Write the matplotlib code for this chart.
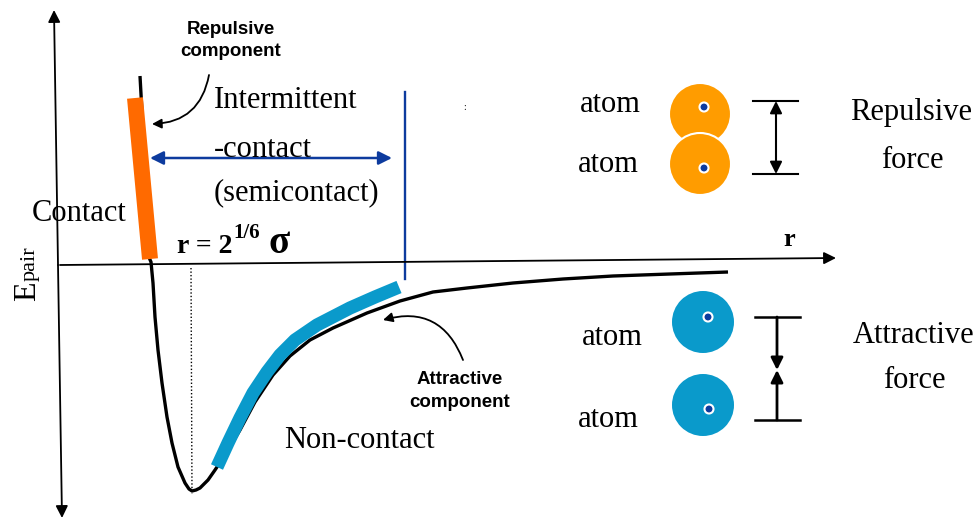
import matplotlib
matplotlib.use("Agg")
import matplotlib.pyplot as plt
from matplotlib.patches import Circle

plt.rcParams['font.family'] = ['Liberation Serif', 'DejaVu Serif']

# pair potential curve (pixel coords, y down)
curve_x = [140, 143, 146, 148, 151, 153, 155, 158, 162, 167, 172, 178, 185, 189, 192,
           196, 200, 208, 215, 225, 240, 255, 273, 290, 310, 333, 367, 400, 433,
           467, 513, 563, 613, 670, 728]
curve_y = [76, 130, 200, 255, 262, 283, 317, 350, 383, 417, 443, 467, 483, 489, 491,
           490, 488, 480, 470, 455, 430, 402, 375, 356, 340, 328, 313, 301, 292,
           288, 283, 279, 276, 274, 272]

# highlighted parts of the curve
repulsive_x = [135, 150]
repulsive_y = [98, 259]
attractive_x = [217, 228, 240, 253, 267, 280, 295, 317, 350, 375, 399]
attractive_y = [467, 443, 418, 393, 372, 355, 340, 325, 308, 297, 287]

# atoms: (x, y) centres, nucleus positions
rep_atoms = [(700, 114), (700, 164)]
rep_nuclei = [(704, 107), (704, 168)]
att_atoms = [(703, 322), (703, 405)]
att_nuclei = [(708, 317), (709, 409)]

ORANGE = '#ff6a00'
ORANGE_ATOM = '#ff9c00'
BLUE = '#0a9acb'
DARKBLUE = '#0d3b9e'

fig = plt.figure(figsize=(9.8, 5.22), dpi=100)
ax = fig.add_axes([0, 0, 1, 1])
ax.set_xlim(0, 980)
ax.set_ylim(522, 0)
ax.axis('off')

def arrow(p0, p1, style='-|>', color='black', lw=1.2, ms=15, rad=0.0):
    ax.annotate('', xy=p1, xytext=p0,
                arrowprops=dict(arrowstyle=style, color=color, lw=lw,
                                mutation_scale=ms, shrinkA=0, shrinkB=0,
                                connectionstyle=f'arc3,rad={rad}'))

# axes
arrow((60, 265), (836, 258), lw=1.3, ms=18)
arrow((58, 265), (54, 10), lw=1.3, ms=18)
arrow((58, 265), (62, 518), lw=1.3, ms=18)

# curve + coloured parts
ax.plot(curve_x, curve_y, color='black', lw=2.4, solid_capstyle='butt',
        solid_joinstyle='round', zorder=3)
ax.plot(repulsive_x, repulsive_y, color=ORANGE, lw=11.5, solid_capstyle='butt', zorder=4)
ax.plot(attractive_x, attractive_y, color=BLUE, lw=9.5, solid_capstyle='butt',
        solid_joinstyle='round', zorder=4)

# minimum marker and semicontact boundary
ax.plot([191, 192], [268, 494], color='black', lw=1.0, ls=(0, (1, 1.5)))
ax.plot([405, 405], [92, 279], color=DARKBLUE, lw=1.7)
arrow((392, 158), (150, 158), style='<|-|>', color=DARKBLUE, lw=1.8, ms=20)

# curved pointer arrows
arrow((209, 75), (152, 124), lw=1.3, ms=14, rad=-0.4)
arrow((463, 360), (383, 320), lw=1.3, ms=14, rad=0.45)

# text labels
serif = 22
ax.text(214, 108, 'Intermittent', fontsize=serif, va='baseline')
ax.text(214, 157, '-contact', fontsize=serif, va='baseline')
ax.text(214, 200, '(semicontact)', fontsize=serif, va='baseline')
ax.text(32, 221, 'Contact', fontsize=serif, va='baseline')
ax.text(284, 448, 'Non-contact', fontsize=serif, va='baseline')
ax.text(177, 253, 'r = 2', fontsize=20, fontweight='bold', va='baseline')
ax.text(233, 238, '1/6', fontsize=15, fontweight='bold', va='baseline')
ax.text(268, 253, 'σ', fontsize=28, fontweight='bold', va='baseline')
ax.text(783, 246, 'r', fontsize=19, fontweight='bold', va='baseline')
ax.text(35, 301, 'E', fontsize=23, rotation=90, rotation_mode='anchor',
        ha='left', va='baseline')
ax.text(35, 281, 'pair', fontsize=16, rotation=90, rotation_mode='anchor',
        ha='left', va='baseline')
ax.text(465, 110, ':', fontsize=7, ha='center', va='baseline')

for s, y in [('Repulsive', 34), ('component', 56)]:
    ax.text(231, y, s, fontsize=13.5, fontweight='bold', family='Liberation Sans',
            ha='center', va='baseline')
for s, y in [('Attractive', 384), ('component', 407)]:
    ax.text(460, y, s, fontsize=13.5, fontweight='bold', family='Liberation Sans',
            ha='center', va='baseline')

for x, y in [(610, 112), (608, 172), (612, 345), (608, 427)]:
    ax.text(x, y, 'atom', fontsize=serif, ha='center', va='baseline')
ax.text(911, 120, 'Repulsive', fontsize=serif, ha='center', va='baseline')
ax.text(912, 168, 'force', fontsize=serif, ha='center', va='baseline')
ax.text(914, 343, 'Attractive', fontsize=serif, ha='center', va='baseline')
ax.text(914, 388, 'force', fontsize=serif, ha='center', va='baseline')

# atoms
for (cx, cy) in rep_atoms:
    ax.add_patch(Circle((cx, cy), 31, facecolor=ORANGE_ATOM, edgecolor='white', lw=1.5, zorder=5))
for (cx, cy) in att_atoms:
    ax.add_patch(Circle((cx, cy), 31, facecolor=BLUE, edgecolor='none', zorder=5))
for (cx, cy) in rep_nuclei + att_nuclei:
    ax.add_patch(Circle((cx, cy), 4.5, facecolor=DARKBLUE, edgecolor='white', lw=1.5, zorder=6))

# force brackets
for y in (101, 174):
    ax.plot([753, 798], [y, y], color='black', lw=1.5)
arrow((776, 174), (776, 101), style='<|-|>', lw=1.5, ms=18)
for y in (317, 420):
    ax.plot([755, 800], [y, y], color='black', lw=1.8)
arrow((777, 317), (777, 370), lw=2.0, ms=18)
arrow((777, 420), (777, 370), lw=2.0, ms=18)

fig.savefig('out.png', dpi=100, facecolor='white')
